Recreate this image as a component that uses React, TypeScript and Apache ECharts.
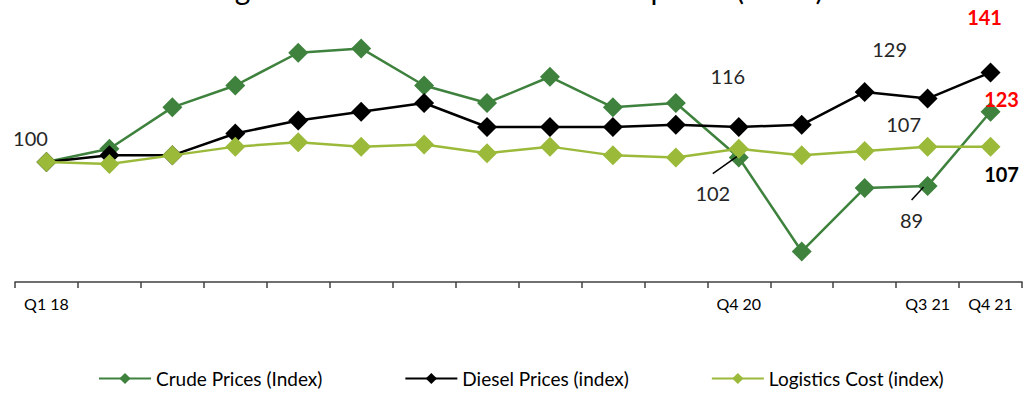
import React, { useEffect, useRef } from "react";
import * as echarts from "echarts";

const categories = ["Q1 18", "Q2 18", "Q3 18", "Q4 18", "Q1 19", "Q2 19", "Q3 19", "Q4 19", "Q1 20", "Q2 20", "Q3 20", "Q4 20", "Q1 21", "Q2 21", "Q3 21", "Q4 21"];
const shownTickLabels = ["Q1 18", "Q4 20", "Q3 21", "Q4 21"];
const seriesNames = ["Crude Prices (Index)", "Diesel Prices (index)", "Logistics Cost (index)"];
const crude = [100, 106, 125, 135, 150, 152, 135, 127, 139, 125, 127, 102, 59, 88, 89, 123];
const diesel = [100, 103, 103, 113, 119, 123, 127, 116, 116, 116, 117, 116, 117, 132, 129, 141];
const logistics = [100, 99, 103, 107, 109, 107, 108, 104, 107, 103, 102, 106, 103, 105, 107, 107];
const titleText = "Logistics cost vs. crude and diesel prices (index)";

// annotation styling: [seriesIndex, dataIndex, offsetX, offsetY, kind]
const annotations: [number, number, number, number, string][] = [
  [0, 0, -16, -24, "plain"],
  [1, 11, -11, -51, "plain"],
  [0, 11, -26, 35, "plain"],
  [1, 14, -38, -50, "plain"],
  [2, 14, -24, -23, "plain"],
  [0, 14, -16, 34, "plain"],
  [1, 15, -6, -55, "red"],
  [0, 15, 11, -13, "red"],
  [2, 15, 11, 27, "bold"],
];
// leader lines: [seriesIndex, dataIndex, fromDx, fromDy, toDx, toDy] relative to point
const leaders: [number, number, number, number, number, number][] = [
  [0, 11, -26, 16, -2, -1],
  [0, 14, -16, 14, -4, 1],
];

const colors = ["#3E823E", "#000000", "#9BBA3A"];
const FONT = "Lato, 'Open Sans', sans-serif";

export default function App() {
  const ref = useRef<HTMLDivElement>(null);
  useEffect(() => {
    if (!ref.current) return;
    const chart = echarts.init(ref.current, null, { renderer: "svg" });
    const allData = [crude, diesel, logistics];
    const buildData = (si: number) =>
      allData[si].map((v, i) => {
        const a = annotations.find((x) => x[0] === si && x[1] === i);
        if (!a) return v;
        const kind = a[4];
        return {
          value: v,
          label: {
            show: true,
            position: "inside",
            offset: [a[2], a[3]],
            formatter: "{c}",
            fontFamily: FONT,
            fontSize: 20,
            fontWeight: kind === "plain" ? "normal" : "bold",
            color: kind === "red" ? "#FF0000" : kind === "bold" ? "#000000" : "#262626",
          },
        };
      });
    chart.setOption({
      animation: false,
      title: {
        text: titleText,
        left: "center",
        top: -32,
        textStyle: { fontFamily: FONT, fontSize: 30, fontWeight: "normal", color: "#000" },
      },
      grid: { left: 15, right: 5, top: 20, bottom: 111, containLabel: false },
      legend: {
        left: 93,
        top: 364,
        itemWidth: 52,
        itemHeight: 14,
        itemGap: 82,
        textStyle: { fontFamily: FONT, fontSize: 19, color: "#000" },
        data: seriesNames,
      },
      xAxis: {
        type: "category",
        data: categories,
        boundaryGap: true,
        axisLine: { lineStyle: { color: "#404040", width: 1.5 } },
        axisTick: { show: true, length: 6, inside: false, lineStyle: { color: "#404040", width: 1.5 } },
        axisLabel: {
          interval: 0,
          margin: 13,
          fontFamily: FONT,
          fontSize: 16,
          color: "#000",
          formatter: (v: string) => (shownTickLabels.includes(v) ? v : ""),
        },
      },
      yAxis: { type: "value", min: 45, max: 165, show: false, splitLine: { show: false } },
      series: seriesNames.map((name, si) => ({
        name,
        type: "line",
        data: buildData(si),
        symbol: "diamond",
        symbolSize: 20,
        color: colors[si],
        lineStyle: { color: colors[si], width: 2.5 },
        itemStyle: { color: colors[si] },
        label: { show: false },
        z: 2 + si,
      })),
    });
    const lines = leaders.map(([si, di, fx, fy, tx, ty]) => {
      const p = chart.convertToPixel({ seriesIndex: si }, [di, allData[si][di]]) as number[];
      return {
        type: "line",
        z: 100,
        shape: { x1: p[0] + fx, y1: p[1] + fy, x2: p[0] + tx, y2: p[1] + ty },
        style: { stroke: "#000", lineWidth: 1.5 },
      };
    });
    chart.setOption({ graphic: lines });
    return () => chart.dispose();
  }, []);
  return <div ref={ref} style={{ width: 1027, height: 393, position: "absolute", left: 0, top: 0 }} />;
}
